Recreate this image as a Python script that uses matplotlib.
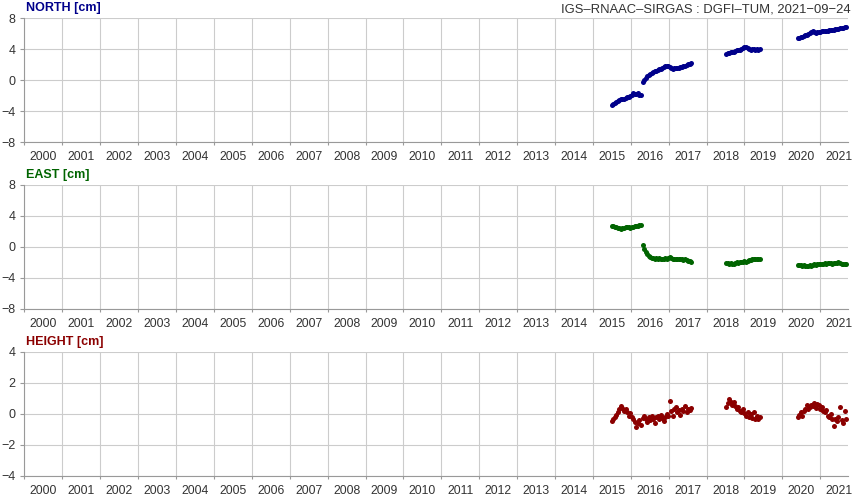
import numpy as np
import matplotlib.pyplot as plt

plt.rcParams['font.family'] = ['Liberation Sans', 'DejaVu Sans']

# epochs in decimal years, roughly two-weekly, four observing spans
t1 = [2015.50, 2015.54, 2015.58, 2015.62, 2015.66, 2015.70, 2015.74, 2015.78,
      2015.82, 2015.86, 2015.90, 2015.94, 2015.98, 2016.02, 2016.06, 2016.10,
      2016.14, 2016.18, 2016.22, 2016.26]
t2 = [2016.31, 2016.35, 2016.39, 2016.43, 2016.47, 2016.51, 2016.55, 2016.59,
      2016.63, 2016.67, 2016.71, 2016.75, 2016.79, 2016.83, 2016.87, 2016.91,
      2016.95, 2016.99, 2017.03, 2017.07, 2017.11, 2017.15, 2017.19, 2017.23,
      2017.27, 2017.31, 2017.35, 2017.39, 2017.43, 2017.47, 2017.51, 2017.55,
      2017.59]
t3 = [2018.52, 2018.56, 2018.60, 2018.64, 2018.68, 2018.72, 2018.76, 2018.80,
      2018.84, 2018.88, 2018.92, 2018.96, 2019.00, 2019.04, 2019.08, 2019.12,
      2019.16, 2019.20, 2019.24, 2019.28, 2019.32, 2019.36, 2019.40]
t4 = [2020.40, 2020.44, 2020.48, 2020.52, 2020.56, 2020.60, 2020.64, 2020.68,
      2020.72, 2020.76, 2020.80, 2020.84, 2020.88, 2020.92, 2020.96, 2021.00,
      2021.04, 2021.08, 2021.12, 2021.16, 2021.20, 2021.24, 2021.28, 2021.32,
      2021.36, 2021.40, 2021.44, 2021.48, 2021.52, 2021.56, 2021.60, 2021.64,
      2021.68]
epochs = t1 + t2 + t3 + t4

# station displacements [cm]
north = [
    -3.15, -3.0, -2.9, -2.8, -2.65, -2.55, -2.45, -2.4, -2.35, -2.3,
    -2.2, -2.15, -2.05, -1.85, -1.7, -1.75, -1.8, -1.7, -1.85, -1.95,
    -0.25, 0.1, 0.35, 0.5, 0.7, 0.8, 0.95, 1.05, 1.15, 1.25,
    1.35, 1.45, 1.5, 1.6, 1.7, 1.8, 1.85, 1.8, 1.7, 1.55,
    1.5, 1.55, 1.6, 1.6, 1.65, 1.7, 1.75, 1.8, 1.85, 1.95,
    2.05, 2.15, 2.25,
    3.4, 3.5, 3.55, 3.6, 3.65, 3.7, 3.8, 3.85, 3.9, 3.95,
    4.05, 4.15, 4.25, 4.3, 4.2, 4.05, 3.95, 4.0, 4.05, 3.95,
    4.0, 3.9, 4.0,
    5.45, 5.5, 5.55, 5.65, 5.7, 5.8, 5.85, 5.95, 6.1, 6.2,
    6.3, 6.25, 6.15, 6.2, 6.25, 6.2, 6.3, 6.35, 6.4, 6.35,
    6.4, 6.45, 6.5, 6.45, 6.55, 6.6, 6.65, 6.6, 6.7, 6.75,
    6.8, 6.85, 6.9]
east = [
    2.7, 2.65, 2.6, 2.55, 2.5, 2.4, 2.35, 2.4, 2.5, 2.55,
    2.6, 2.55, 2.5, 2.55, 2.6, 2.65, 2.7, 2.75, 2.8, 2.8,
    0.3, -0.3, -0.7, -0.95, -1.15, -1.3, -1.4, -1.45, -1.5, -1.45,
    -1.5, -1.45, -1.5, -1.55, -1.5, -1.45, -1.5, -1.4, -1.35, -1.45,
    -1.5, -1.55, -1.5, -1.6, -1.55, -1.5, -1.6, -1.65, -1.6, -1.7,
    -1.75, -1.85, -1.9,
    -2.05, -2.1, -2.15, -2.1, -2.2, -2.15, -2.05, -2.0, -2.1, -2.0,
    -1.95, -1.9, -1.85, -1.9, -1.8, -1.7, -1.65, -1.6, -1.55, -1.6,
    -1.5, -1.55, -1.55,
    -2.3, -2.35, -2.3, -2.4, -2.35, -2.4, -2.45, -2.4, -2.35, -2.4,
    -2.3, -2.25, -2.3, -2.2, -2.25, -2.2, -2.15, -2.2, -2.1, -2.15,
    -2.1, -2.05, -2.1, -2.15, -2.1, -2.05, -2.1, -2.0, -2.1, -2.15,
    -2.2, -2.15, -2.25]
height = [
    -0.45, -0.35, -0.2, -0.05, 0.1, 0.3, 0.5, 0.4, 0.2, 0.35,
    0.1, -0.1, 0.05, -0.2, -0.35, -0.5, -0.85, -0.6, -0.4, -0.7,
    -0.25, -0.1, -0.3, -0.5, -0.2, -0.4, -0.15, -0.3, -0.55, -0.2,
    -0.1, -0.35, -0.05, -0.25, -0.45, -0.2, 0.0, -0.15, 0.85, 0.2,
    -0.1, 0.3, 0.45, 0.1, 0.25, -0.05, 0.35, 0.2, 0.5, 0.1,
    0.3, 0.25, 0.4,
    0.45, 0.7, 0.95, 0.8, 0.6, 0.75, 0.5, 0.3, 0.45, 0.2,
    0.1, 0.3, 0.05, -0.1, 0.15, -0.2, 0.0, -0.25, 0.1, -0.3,
    -0.15, -0.35, -0.2,
    -0.2, -0.05, 0.1, -0.15, 0.2, 0.35, 0.55, 0.3, 0.45, 0.6,
    0.5, 0.7, 0.4, 0.65, 0.55, 0.3, 0.45, 0.2, 0.1, 0.25,
    -0.1, -0.2, 0.0, -0.35, -0.75, -0.3, -0.45, -0.2, 0.45, -0.4,
    -0.55, 0.2, -0.3]

labels = ["NORTH [cm]", "EAST [cm]", "HEIGHT [cm]"]
series = [north, east, height]
colors = ["#00008b", "#006400", "#8b0000"]
limits = [8, 8, 4]
years = np.arange(2000, 2022)

fig = plt.figure(figsize=(8.56, 4.97), dpi=100)
bottoms = [0.7137, 0.3783, 0.0423]

for lab, vals, col, lim, b in zip(labels, series, colors, limits, bottoms):
    ax = fig.add_axes([0.0286, b, 0.962, 0.2495])
    ax.plot(epochs, vals, 'o', ms=3.6, mec='none', color=col, zorder=3)
    ax.set_xlim(2000, 2021.73)
    ax.set_ylim(-lim, lim)
    ax.set_yticks(np.linspace(-lim, lim, 5))
    ax.set_xticks(years)
    ax.set_xticklabels([])
    ax.set_xticks(years + 0.5, minor=True)
    ax.set_xticklabels([str(y) for y in years], minor=True)
    ax.grid(True, which='major', color='#cccccc', lw=0.8)
    ax.set_axisbelow(True)
    for s in ['top', 'right']:
        ax.spines[s].set_visible(False)
    for s in ['left', 'bottom']:
        ax.spines[s].set_color('#999999')
        ax.spines[s].set_linewidth(0.8)
    ax.tick_params(axis='x', which='major', length=2.5, color='#999999')
    ax.tick_params(axis='x', which='minor', length=0, pad=6.5,
                   labelsize=8.8, labelcolor='#333333')
    ax.tick_params(axis='y', length=3, pad=3.5, color='#999999',
                   labelsize=9, labelcolor='#333333')
    ax.annotate(lab, xy=(0, 1), xycoords='axes fraction', xytext=(1, 7.5),
                textcoords='offset points', va='center', ha='left',
                fontsize=9, fontweight='bold', color=col)

fig.text(851 / 856, 1 - 9 / 497, "IGS\u2013RNAAC\u2013SIRGAS : DGFI\u2013TUM, 2021\u221209\u221224",
         ha='right', va='center', fontsize=9.4, color='#333333')

fig.savefig("out.png", dpi=100)
